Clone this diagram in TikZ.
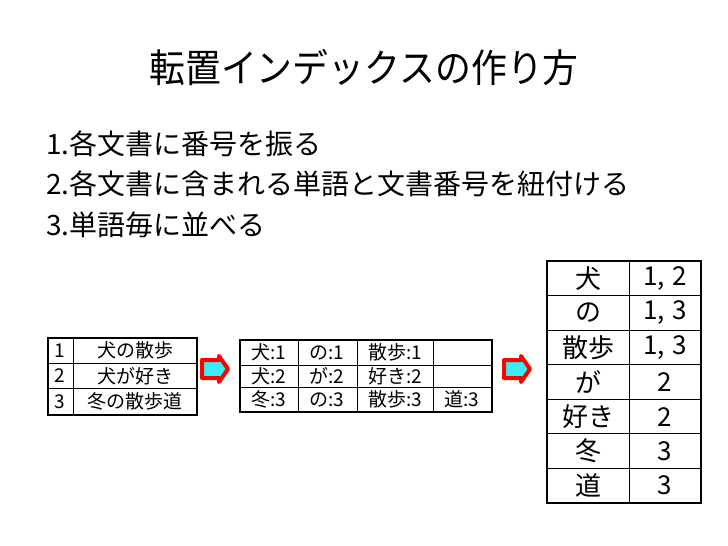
\documentclass[tikz,border=0pt]{standalone}
\usepackage{fontspec}
\setmainfont{Noto Sans CJK JP}
\newfontfamily\titlefont[FakeStretch=0.92]{Noto Sans CJK JP}
\definecolor{aqua}{RGB}{60,235,245}
\begin{document}
\begin{tikzpicture}[x=1pt,y=-1pt,line join=miter]
\tikzset{
  cell/.style={inner sep=0pt,font=\fontsize{19}{19}\selectfont},
  bigcell/.style={inner sep=0pt,font=\fontsize{26}{26}\selectfont},
  item/.style={anchor=west,inner sep=0pt,font=\fontsize{28}{28}\selectfont},
  frame/.style={line width=2.2pt},
  grid/.style={line width=1pt},
  blockarrow/.style={draw=red,fill=aqua,line width=4pt,line join=round},
}
\useasboundingbox[fill=white] (0,0) rectangle (728,546);
% title and steps
\node[inner sep=0pt,font={\titlefont\fontsize{39}{40}\selectfont}] (title) at (364,68) {転置インデックスの作り方};
\node[item] (step1) at (46,144) {1.各文書に番号を振る};
\node[item] (step2) at (46,184) {2.各文書に含まれる単語と文書番号を紐付ける};
\node[item] (step3) at (46,225) {3.単語毎に並べる};
% documents
\draw[grid] (48,363)--(197,363) (48,388)--(197,388) (73,338)--(73,415);
\draw[frame] (48,338) rectangle (197,415);
\foreach \n/\w/\y in {1/犬の散歩/350.5, 2/犬が好き/376, 3/冬の散歩道/401.5}{
  \node[cell,anchor=west] (num\n) at (54,\y) {\n};
  \node[cell] (doc\n) at (135,\y) {\w};
}
% arrows
\foreach \ax in {202,504}
  \draw[blockarrow] (\ax,360)--(\ax+17,360)--(\ax+17,356)--(\ax+26,369)--(\ax+17,382)--(\ax+17,378)--(\ax,378)--cycle;
% word/number pairs
\draw[grid] (240,365)--(492,365) (240,387)--(492,387)
  (298,340)--(298,412) (357,340)--(357,412) (433,340)--(433,412);
\draw[frame] (240,340) rectangle (492,412);
\foreach \t/\x/\y [count=\i] in {犬:1/269/352.5, の:1/327/352.5, 散歩:1/395/352.5,
  犬:2/269/376, が:2/327/376, 好き:2/395/376,
  冬:3/269/399.5, の:3/327/399.5, 散歩:3/395/399.5, 道:3/462/399.5}
  \node[cell] (pair\i) at (\x,\y) {\t};
% inverted index
\foreach \i in {1,...,6}
  \draw[grid] (547,{261+34.57*\i})--(701,{261+34.57*\i});
\draw[grid] (629,261)--(629,503);
\draw[frame] (547,261) rectangle (701,503);
\foreach \w/\d [count=\i] in {犬/{1,\hspace{7pt}2}, の/{1,\hspace{7pt}3}, 散歩/{1,\hspace{7pt}3}, が/2, 好き/2, 冬/3, 道/3}{
  \node[bigcell] (word\i) at (588,{261+34.57*(\i-0.5)}) {\w};
  \node[bigcell] (ids\i) at (665,{261+34.57*(\i-0.5)}) {\d};
}
\end{tikzpicture}
\end{document}
